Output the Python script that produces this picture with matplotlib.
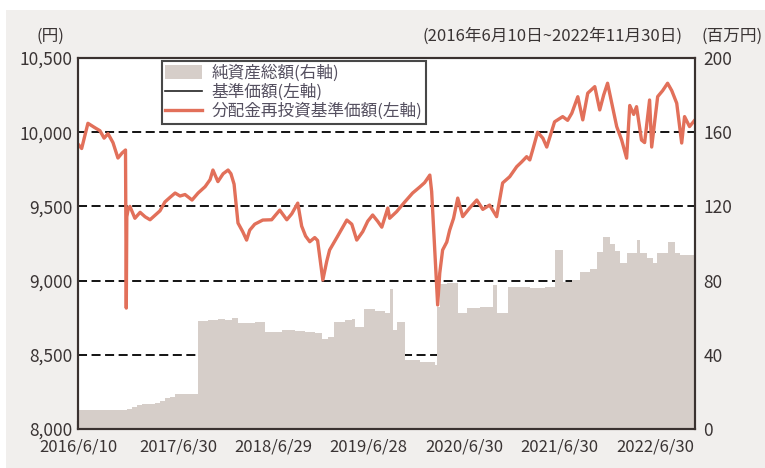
import matplotlib.pyplot as plt
import pandas as pd
from matplotlib.patches import Rectangle, Patch
from matplotlib.ticker import FuncFormatter

# 基準価額 / 分配金再投資基準価額 (円)
nav_dates = [
    "2016-06-10", "2016-06-24", "2016-07-18", "2016-08-14", "2016-09-02", "2016-09-18",
    "2016-10-03", "2016-10-22", "2016-11-10", "2016-11-26", "2016-12-09", "2016-12-12",
    "2016-12-14", "2016-12-19", "2016-12-26", "2017-01-14", "2017-02-03", "2017-02-22",
    "2017-03-13", "2017-04-01", "2017-04-20", "2017-05-09", "2017-05-28", "2017-06-17",
    "2017-07-06", "2017-07-25", "2017-08-21", "2017-09-13", "2017-10-10", "2017-10-29",
    "2017-11-09", "2017-11-28", "2017-12-18", "2018-01-06", "2018-01-17", "2018-01-29",
    "2018-02-13", "2018-03-03", "2018-03-18", "2018-03-30", "2018-04-18", "2018-05-19",
    "2018-06-22", "2018-07-23", "2018-08-19", "2018-09-07", "2018-09-30", "2018-10-15",
    "2018-10-30", "2018-11-15", "2018-12-04", "2018-12-15", "2019-01-04", "2019-01-19",
    "2019-01-30", "2019-03-02", "2019-04-06", "2019-04-25", "2019-05-14", "2019-06-06",
    "2019-06-25", "2019-07-14", "2019-08-02", "2019-08-18", "2019-09-10", "2019-09-17",
    "2019-10-14", "2019-11-14", "2019-12-14", "2020-01-10", "2020-01-29", "2020-02-18",
    "2020-02-25", "2020-03-08", "2020-03-19", "2020-03-27", "2020-04-07", "2020-04-23",
    "2020-05-04", "2020-05-19", "2020-06-04", "2020-06-23", "2020-07-20", "2020-08-16",
    "2020-09-08", "2020-10-04", "2020-10-31", "2020-11-23", "2020-12-20", "2021-01-16",
    "2021-02-04", "2021-02-23", "2021-03-07", "2021-03-18", "2021-04-06", "2021-04-26",
    "2021-05-11", "2021-06-10", "2021-07-11", "2021-07-30", "2021-08-15", "2021-09-07",
    "2021-09-26", "2021-10-15", "2021-11-11", "2021-11-30", "2021-12-15", "2021-12-30",
    "2022-01-15", "2022-02-03", "2022-02-22", "2022-03-13", "2022-03-25", "2022-04-09",
    "2022-04-20", "2022-05-09", "2022-05-21", "2022-06-09", "2022-06-17", "2022-07-10",
    "2022-07-29", "2022-08-17", "2022-09-02", "2022-09-21", "2022-10-10", "2022-10-21",
    "2022-11-09", "2022-11-30",
]
nav_values = [
    9920, 9890, 10060, 10030, 10010, 9960,
    9990, 9930, 9826, 9860, 9880, 8815,
    9430, 9480, 9500, 9420, 9460, 9430,
    9410, 9440, 9470, 9530, 9560, 9590,
    9570, 9580, 9543, 9590, 9633, 9680,
    9745, 9667, 9720, 9745, 9720, 9650,
    9388, 9330, 9273, 9340, 9380, 9408,
    9410, 9475, 9410, 9450, 9522, 9367,
    9300, 9262, 9290, 9270, 9004, 9130,
    9206, 9300, 9408, 9380, 9273, 9330,
    9400, 9442, 9400, 9360, 9489, 9420,
    9465, 9530, 9590, 9630, 9660, 9711,
    9600, 9200, 8836, 9050, 9206, 9260,
    9340, 9420, 9556, 9431, 9490, 9543,
    9480, 9509, 9431, 9658, 9700, 9768,
    9800, 9835, 9813, 9880, 10000, 9960,
    9900, 10070, 10105, 10080, 10128, 10239,
    10083, 10263, 10307, 10150, 10250, 10330,
    10195, 10038, 9947, 9825, 10180, 10120,
    10172, 9947, 9930, 10217, 9900, 10240,
    10280, 10330, 10280, 10195, 9927, 10105,
    10038, 10083,
]
# no distributions were paid, so both series coincide
reinvest_values = list(nav_values)

# 純資産総額 (百万円)
asset_dates = [
    "2016-06-10", "2016-12-15", "2017-01-03", "2017-01-22", "2017-02-10", "2017-04-01",
    "2017-04-20", "2017-05-09", "2017-05-28", "2017-06-17", "2017-07-25", "2017-09-13",
    "2017-10-21", "2017-11-28", "2017-12-25", "2018-01-21", "2018-02-13", "2018-03-23",
    "2018-04-19", "2018-05-27", "2018-07-31", "2018-09-18", "2018-10-27", "2018-12-04",
    "2019-01-01", "2019-01-23", "2019-02-15", "2019-03-30", "2019-04-25", "2019-05-06",
    "2019-06-10", "2019-07-22", "2019-08-29", "2019-09-17", "2019-09-29", "2019-10-14",
    "2019-11-14", "2020-01-10", "2020-03-08", "2020-03-15", "2020-03-27", "2020-04-23",
    "2020-06-04", "2020-07-08", "2020-08-27", "2020-10-16", "2020-10-31", "2020-12-12",
    "2021-03-07", "2021-05-03", "2021-06-10", "2021-07-11", "2021-08-15", "2021-09-14",
    "2021-10-22", "2021-11-18", "2021-12-11", "2022-01-07", "2022-01-26", "2022-02-14",
    "2022-03-13", "2022-04-20", "2022-05-02", "2022-05-29", "2022-06-21", "2022-07-06",
    "2022-07-25", "2022-08-17", "2022-09-13", "2022-10-02", "2022-11-30",
]
asset_values = [
    10, 11, 12, 13, 13.5, 14,
    15, 16.5, 17.5, 18.7, 19, 58,
    59, 59.2, 59, 59.7, 57.3, 57,
    57.5, 52.5, 53.4, 53, 52.5, 51.6,
    48.3, 49.5, 57.8, 58.5, 59.2, 55.2,
    64.5, 63.5, 62.5, 75.3, 53.4, 57.8,
    37, 36, 34.5, 66, 78, 78.5,
    62.3, 65, 65.6, 77.6, 62.3, 76.7,
    76, 76.5, 96.5, 79.4, 80.5, 84.8,
    86, 95.6, 103.7, 100, 96, 89.3,
    94.7, 101.9, 94.7, 92, 89.3, 94.7,
    95, 101, 94.7, 93.8, 93.8,
]

tick_dates = ["2016-06-10", "2017-06-30", "2018-06-29", "2019-06-28",
              "2020-06-30", "2021-06-30", "2022-06-30"]
tick_labels = ["2016/6/10", "2017/6/30", "2018/6/29", "2019/6/28",
               "2020/6/30", "2021/6/30", "2022/6/30"]

cjk = ['Noto Sans CJK JP', 'DejaVu Sans']
plt.rcParams['font.family'] = cjk
text_col = '#3a3434'
spine_col = '#3a3230'
red = '#e2705a'
area_col = '#d6cec9'

fig = plt.figure(figsize=(7.65, 4.68), dpi=100, facecolor='white')
fig.patches.append(Rectangle((6 / 765, 0), 1, 1 - 10 / 468, transform=fig.transFigure,
                             facecolor='#f1efed', edgecolor='none', zorder=-10))

# ax2: right axis with net assets and the grid; ax: left axis with the lines on top
ax2 = fig.add_axes([78 / 765, 39 / 468, 617 / 765, 371 / 468])
ax = ax2.twinx()
ax.yaxis.tick_left()
ax2.yaxis.tick_right()
ax.set_zorder(ax2.get_zorder() + 1)
ax.patch.set_visible(False)
ax2.set_facecolor('white')

ad = pd.to_datetime(asset_dates)
ax2.fill_between(ad, 0, asset_values, step='post', color=area_col, linewidth=0, zorder=2)
ax2.set_ylim(0, 200)
ax2.set_yticks([0, 40, 80, 120, 160, 200])
for v in [40, 80, 120, 160]:
    ax2.axhline(v, color='black', linestyle=(0, (5, 2.5)), linewidth=1.3, zorder=1)

nd = pd.to_datetime(nav_dates)
ax.plot(nd, nav_values, color='#222222', linewidth=1.2, label='基準価額(左軸)')
ax.plot(nd, reinvest_values, color=red, linewidth=2.4, label='分配金再投資基準価額(左軸)')
ax.set_ylim(8000, 10500)
ax.set_yticks([8000, 8500, 9000, 9500, 10000, 10500])
ax.yaxis.set_major_formatter(FuncFormatter(lambda v, p: f"{int(v):,}"))

ax.set_xlim(pd.Timestamp("2016-06-10"), pd.Timestamp("2022-11-30"))
ax2.set_xticks(pd.to_datetime(tick_dates))
ax2.set_xticklabels(tick_labels)

for a in (ax, ax2):
    for s in a.spines.values():
        s.set_color(spine_col)
        s.set_linewidth(1.5)
ax.tick_params(axis='y', length=0, labelsize=12.5, colors=text_col, pad=4)
ax2.tick_params(axis='y', length=0, labelsize=12.5, colors=text_col, pad=6)
ax2.tick_params(axis='x', direction='in', length=6, width=1.5, color=spine_col,
                labelsize=12, labelcolor=text_col, pad=7)
ax.tick_params(axis='x', length=0, labelbottom=False)

handles = [Patch(facecolor=area_col, edgecolor='none', label='純資産総額(右軸)')] + \
    ax.get_legend_handles_labels()[0]
leg = ax.legend(handles=handles, loc='upper left', bbox_to_anchor=(0.136, 0.992),
                borderaxespad=0, frameon=True, fancybox=False,
                handlelength=2.2, handleheight=0.9, labelspacing=0.12,
                borderpad=0.2, handletextpad=0.6,
                prop={'family': cjk, 'size': 12})
leg.get_frame().set_edgecolor('#1a1a1a')
leg.get_frame().set_linewidth(1.5)
for t in leg.get_texts():
    t.set_color('#555060')

fig.text(50 / 765, 1 - 36 / 468, '(円)', ha='center', va='center', fontsize=12,
         color=text_col)
fig.text(683 / 765, 1 - 36 / 468, '(2016年6月10日~2022年11月30日)', ha='right',
         va='center', fontsize=12, color=text_col)
fig.text(763 / 765, 1 - 36 / 468, '(百万円)', ha='right', va='center', fontsize=12,
         color=text_col)

fig.savefig('out.png', dpi=100, facecolor=fig.get_facecolor())
